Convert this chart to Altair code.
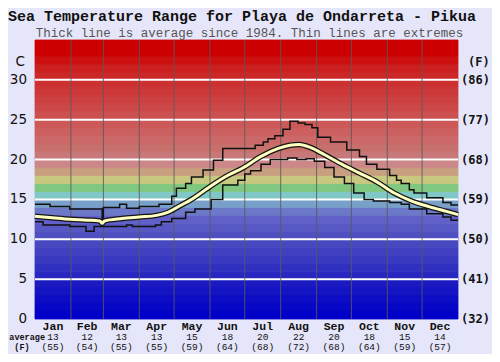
import altair as alt
import pandas as pd

W, H = 423, 279

# ---- data ----
months = ["Jan", "Feb", "Mar", "Apr", "May", "Jun", "Jul", "Aug", "Sep", "Oct", "Nov", "Dec"]
month_days = [31, 28, 31, 30, 31, 30, 31, 31, 30, 31, 30, 31]
avg_c = [13, 12, 13, 13, 15, 18, 20, 22, 20, 18, 15, 14]
avg_f = [55, 54, 55, 55, 59, 64, 68, 72, 68, 64, 59, 57]

max_day = [0, 13, 30, 58, 59, 73, 79, 90, 107, 118, 122, 130, 135, 145, 154, 162, 190, 197, 201,
           207, 214, 220, 227, 233, 239, 244, 255, 269, 280, 286, 295, 306, 312, 316, 323, 327,
           338, 352, 359, 365]
max_val = [14.4, 14.1, 13.8, 12.1, 14.0, 14.4, 13.9, 14.1, 14.4, 15.4, 16.4, 17.0, 17.8, 18.7, 19.9,
           21.4, 21.8, 22.2, 22.6, 23.0, 23.8, 24.8, 24.6, 24.4, 24.0, 22.8, 22.2, 21.2, 20.4, 19.4,
           18.8, 18.0, 17.4, 17.0, 16.2, 15.8, 15.2, 14.6, 14.3, 14.3]

min_day = [0, 7, 30, 44, 51, 79, 84, 104, 109, 118, 130, 138, 152, 162, 175, 181, 186, 195, 203,
           218, 226, 234, 241, 250, 258, 267, 275, 284, 292, 306, 316, 323, 338, 352, 359, 365]
min_val = [12.2, 11.8, 11.6, 11.0, 11.6, 11.8, 11.6, 11.8, 12.2, 12.6, 13.4, 13.8, 15.0, 16.8, 17.4,
           18.2, 18.6, 19.4, 20.0, 20.2, 20.0, 20.1, 19.8, 19.0, 17.8, 17.0, 15.8, 15.0, 14.8, 14.6,
           14.4, 13.8, 13.2, 12.8, 12.4, 12.4]

avg_day = [0, 15, 30, 45, 56, 58, 60, 75, 90, 105, 115, 125, 135, 145, 155, 165, 180, 195, 210,
           220, 228, 238, 250, 265, 280, 295, 310, 325, 340, 355, 365]
avg_val = [12.9, 12.7, 12.5, 12.4, 12.3, 12.0, 12.3, 12.6, 12.8, 13.0, 13.4, 14.2, 15.0, 16.0, 17.0,
           17.9, 19.0, 20.4, 21.4, 21.8, 21.9, 21.5, 20.6, 19.4, 18.3, 17.2, 15.8, 14.8, 14.1, 13.5,
           13.1]

band_colors = ["#0000c8", "#0606c6", "#0c0cc4", "#1414c2", "#1a1ac0", "#2828c0", "#3030c0",
               "#3838c0", "#4040c0", "#4848c0", "#5050c0", "#5858c4", "#6060c8", "#6c78c8",
               "#78a0c8", "#80c8c8", "#80c880", "#c8c880", "#c8a080", "#cc8888", "#c87878",
               "#c8706c", "#cc6868", "#cc6060", "#cc5858", "#cc5050", "#cc4848", "#cc4040",
               "#cc3838", "#cc3030", "#cc2828", "#cc2020", "#cc1010", "#cc0000", "#cc0000"]

c_ticks = [0, 5, 10, 15, 20, 25, 30]
c_labels = ["0", "5", "10", "15", "20", "25", "30"]
f_labels = ["(32)", "(41)", "(50)", "(59)", "(68)", "(77)", "(86)"]

# ---- derived tables ----
starts = [sum(month_days[:i]) for i in range(12)]
mdf = pd.DataFrame({
    "m": months,
    "mid": [s + d / 2 for s, d in zip(starts, month_days)],
    "c": [str(v) for v in avg_c],
    "f": [f"({v})" for v in avg_f],
})
bounds = pd.DataFrame({"day": starts[1:]})
bands = pd.DataFrame({"lo": list(range(len(band_colors))),
                      "hi": [i + 1 for i in range(len(band_colors))],
                      "col": band_colors})
ticks = pd.DataFrame({"t": c_ticks, "cl": c_labels, "fl": f_labels})
grid = pd.DataFrame({"t": c_ticks[1:]})
mx = pd.DataFrame({"day": max_day, "t": max_val})
mn = pd.DataFrame({"day": min_day, "t": min_val})
av = pd.DataFrame({"day": avg_day, "t": avg_val})
unit = pd.DataFrame({"t": [32.3]})

xs = alt.Scale(domain=[0, 365], nice=False, zero=False)
ys = alt.Scale(domain=[0, 35], nice=False, zero=False)
X = lambda f: alt.X(f, scale=xs, axis=None)
Y = lambda f: alt.Y(f, scale=ys, axis=None)

MONO = "Liberation Mono"

bg = alt.Chart(bands).mark_rect(strokeWidth=0.8).encode(
    x=alt.value(0), x2=alt.value(W), y=Y("lo:Q"), y2="hi:Q",
    color=alt.Color("col:N", scale=None),
    stroke=alt.Stroke("col:N", scale=None))
hgrid = alt.Chart(grid).mark_rule(color="white", strokeWidth=2).encode(y=Y("t:Q"))
vgrid = alt.Chart(bounds).mark_rule(color="#5a5a5a", strokeWidth=1, opacity=0.85).encode(x=X("day:Q"))
lmax = alt.Chart(mx).mark_line(interpolate="step-after", color="#111", strokeWidth=1.5).encode(
    x=X("day:Q"), y=Y("t:Q"))
lmin = alt.Chart(mn).mark_line(interpolate="step-after", color="#111", strokeWidth=1.5).encode(
    x=X("day:Q"), y=Y("t:Q"))
lavo = alt.Chart(av).mark_line(interpolate="monotone", color="#151515", strokeWidth=5.5).encode(
    x=X("day:Q"), y=Y("t:Q"))
lavi = alt.Chart(av).mark_line(interpolate="monotone", color="#ffffc0", strokeWidth=3).encode(
    x=X("day:Q"), y=Y("t:Q"))

left = alt.Chart(ticks).mark_text(align="right", baseline="middle", font="DejaVu Sans",
                                  fontSize=13.5, color="#111").encode(
    x=alt.value(-8), y=Y("t:Q"), text="cl:N")
right = alt.Chart(ticks).mark_text(align="left", baseline="middle", font="DejaVu Sans Mono",
                                   fontWeight="bold", fontSize=12, color="#111").encode(
    x=alt.value(W + 3), y=Y("t:Q"), text="fl:N")
cunit = alt.Chart(unit).mark_text(align="right", baseline="middle", font="DejaVu Sans",
                                  fontSize=13.5, color="#111", text="C").encode(
    x=alt.value(-10), y=Y("t:Q"))
funit = alt.Chart(unit).mark_text(align="left", baseline="middle", font="DejaVu Sans Mono",
                                  fontWeight="bold", fontSize=12, color="#111", text="(F)").encode(
    x=alt.value(W + 10), y=Y("t:Q"))

mlab = alt.Chart(mdf).mark_text(baseline="alphabetic", font=MONO, fontWeight="bold",
                                fontSize=11.5, color="#111").encode(
    x=X("mid:Q"), y=alt.value(H + 10.5), text="m:N")
clab = alt.Chart(mdf).mark_text(baseline="alphabetic", font=MONO, fontSize=9.5,
                                color="#111").encode(
    x=X("mid:Q"), y=alt.value(H + 20.5), text="c:N")
flab = alt.Chart(mdf).mark_text(baseline="alphabetic", font=MONO, fontSize=9.5,
                                color="#111").encode(
    x=X("mid:Q"), y=alt.value(H + 30.5), text="f:N")
avlab = alt.Chart(unit).mark_text(align="right", baseline="alphabetic", font=MONO,
                                  fontWeight="bold", fontSize=8.5, color="#111",
                                  text="average").encode(x=alt.value(10), y=alt.value(H + 20.5))
avflab = alt.Chart(unit).mark_text(align="center", baseline="alphabetic", font=MONO,
                                   fontWeight="bold", fontSize=8.5, color="#111",
                                   text="(F)").encode(x=alt.value(-13), y=alt.value(H + 30.5))

title = alt.Chart(unit).mark_text(align="left", baseline="alphabetic", font=MONO,
                                  fontWeight="bold", fontSize=15, color="#111",
                                  text="Sea Temperature Range for Playa de Ondarreta - Pikua").encode(
    x=alt.value(-27), y=alt.value(-19))
subtitle = alt.Chart(unit).mark_text(align="center", baseline="alphabetic", font=MONO,
                                     fontSize=12.5, color="#555",
                                     text="Thick line is average since 1984. Thin lines are extremes").encode(
    x=alt.value(W / 2 + 3), y=alt.value(-3))

chart = alt.layer(bg, hgrid, vgrid, lmax, lmin, lavo, lavi, left, right, cunit, funit,
                  mlab, clab, flab, avlab, avflab, title, subtitle).properties(
    width=W, height=H,
    padding={"left": 27, "top": 32, "right": 34, "bottom": 35},
    autosize=alt.AutoSizeParams(type="none"),
    background="#e6e6fa",
).configure_view(strokeWidth=0)

chart.save("out.html", embed_options={"renderer": "svg", "actions": False})
